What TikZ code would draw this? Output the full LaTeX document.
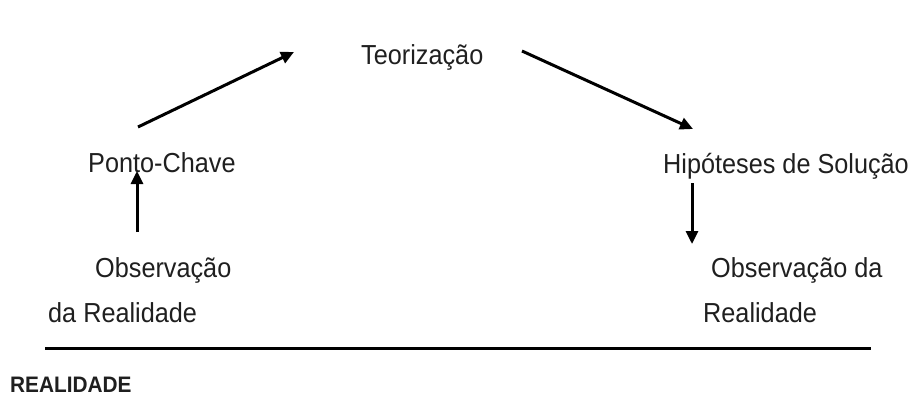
\documentclass[tikz,border=0pt]{standalone}
\usepackage{fontspec}
\setmainfont{Liberation Sans}
\usetikzlibrary{arrows.meta}
\newcommand{\tallt}[1]{\scalebox{1.01}[1.1]{#1}}
\tikzset{
  lbl/.style={anchor=base west, inner sep=0pt, font=\fontsize{25}{30}\selectfont, text=black!88},
  arr/.style={line width=3pt, -{Triangle[length=13pt,width=12pt]}},
}
\begin{document}
\begin{tikzpicture}[x=1pt,y=-1pt]
\useasboundingbox (0,0) rectangle (911,396);
\node[lbl] (teo) at (361,65) {\tallt{Teorização}};
\node[lbl] (pc) at (88,172) {\tallt{Ponto-Chave}};
\node[lbl] (hip) at (663,173) {\tallt{Hipóteses de Solução}};
\node[lbl] (obs1) at (95,277) {\tallt{Observação}};
\node[lbl] (real1) at (48,322) {\tallt{da Realidade}};
\node[lbl] (obs2) at (711,277) {\tallt{Observação da}};
\node[lbl] (real2) at (703,322) {\tallt{Realidade}};
\node[anchor=base west, inner sep=0pt, font=\bfseries\fontsize{20}{24}\selectfont, text=black!88] (rl) at (10,392) {\scalebox{1.04}[1.12]{REALIDADE}};
\coordinate (a1s) at (138,127);
\coordinate (a1e) at (294,52);
\coordinate (a2s) at (522,51);
\coordinate (a2e) at (693,129);
\coordinate (a3s) at (137,232);
\coordinate (a3e) at (137,171);
\coordinate (a4s) at (692,183);
\coordinate (a4e) at (692,244);
\coordinate (ls) at (45,348);
\coordinate (le) at (871,348);
\draw[arr] (a1s) -- (a1e);
\draw[arr] (a2s) -- (a2e);
\draw[arr] (a3s) -- (a3e);
\draw[arr] (a4s) -- (a4e);
\draw[line width=3pt] (ls) -- (le);
\end{tikzpicture}
\end{document}
